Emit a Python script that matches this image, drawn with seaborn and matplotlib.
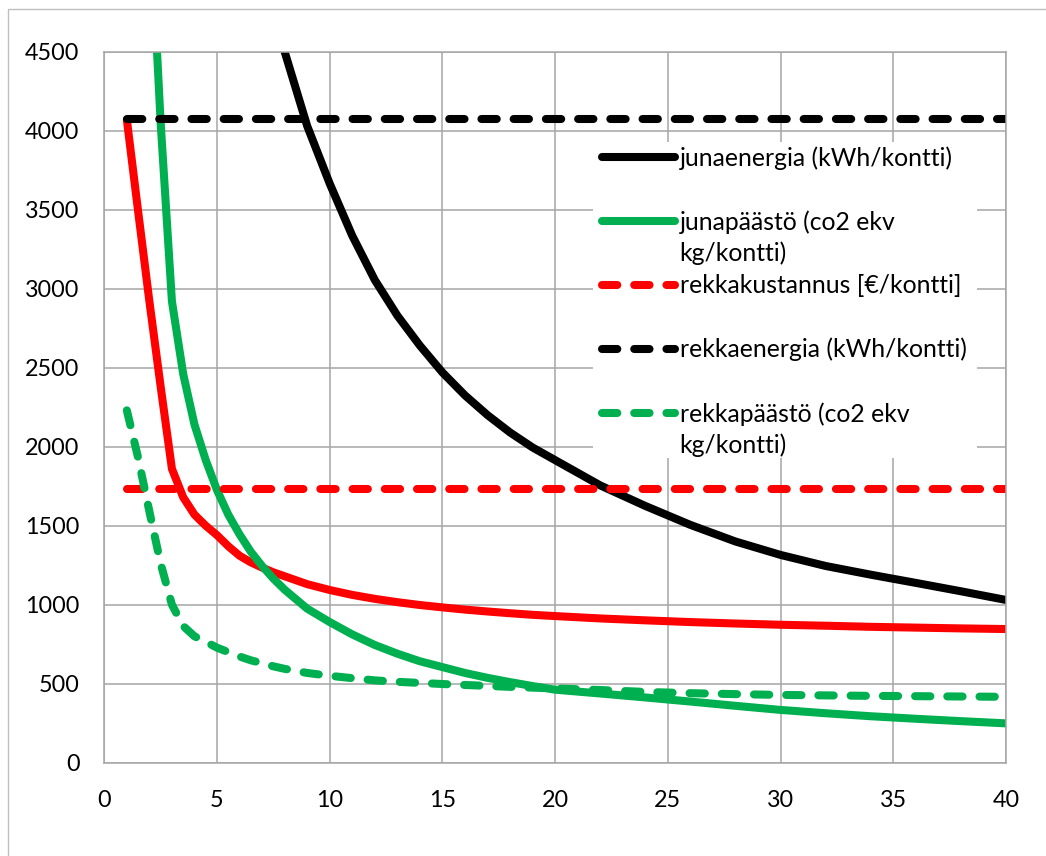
import numpy as np
import matplotlib
matplotlib.use("Agg")
import matplotlib.pyplot as plt
import seaborn as sns
from matplotlib.patches import Rectangle

# Number of containers per train
kontit = [1, 1.5, 2, 2.5, 3, 3.5, 4, 4.5, 5, 5.5, 6, 6.5, 7, 7.5, 8,
          9, 10, 11, 12, 13, 14, 15, 16, 17, 18, 19, 20,
          22, 24, 26, 28, 30, 32, 34, 36, 38, 40]

nan = np.nan

# Train cost per container
junakustannus = [4070, 3490, 2920, 2380, 1860, 1680, 1570, 1500, 1440, 1370,
                 1310, 1268, 1235, 1205, 1180,
                 1130, 1093, 1062, 1037, 1016, 998, 983, 969, 957, 946, 936, 928,
                 913, 901, 890, 881, 873, 867, 860, 855, 850, 846]

# Train energy (kWh/container)
junaenergia = [nan, nan, nan, nan, nan, nan, nan, nan, nan, nan, nan, nan,
               5150, 4820, 4500,
               4030, 3665, 3335, 3055, 2830, 2640, 2470, 2325, 2200, 2090, 1995, 1915,
               1755, 1625, 1505, 1400, 1315, 1245, 1190, 1138, 1085, 1030]

# Train emissions (CO2 eq kg/container)
junapaasto = [nan, nan, 5450, 4050, 2920, 2460, 2140, 1915, 1725, 1570,
              1445, 1335, 1245, 1165, 1095,
              975, 890, 812, 745, 690, 642, 605, 568, 537, 510, 485, 462,
              438, 413, 387, 360, 334, 313, 294, 278, 263, 249]

# Truck reference levels (flat per container)
rekkakustannus = [1730] * len(kontit)
rekkaenergia = [4075] * len(kontit)

# Truck emissions (CO2 eq kg/container)
rekkapaasto = [2230, 1930, 1590, 1260, 1000, 865, 800, 765, 728, 700,
               672, 648, 630, 610, 594,
               568, 550, 535, 521, 512, 505, 498, 492, 486, 480, 475, 470,
               460, 448, 440, 434, 429, 426, 423, 421, 419, 417]

legend_labels = [
    ("junaenergia (kWh/kontti)", None),
    ("junapäästö (co2 ekv", "kg/kontti)"),
    ("rekkakustannus [€/kontti]", None),
    ("rekkaenergia (kWh/kontti)", None),
    ("rekkapäästö (co2 ekv", "kg/kontti)"),
]

x_ticks = list(range(0, 41, 5))
y_ticks = list(range(0, 4501, 500))

RED = "#FF0000"
GREEN = "#00B050"
BLACK = "#000000"
GRID = "#A6A6A6"

sns.set_style("white")
plt.rcParams["font.family"] = ["Lato", "DejaVu Sans"]
plt.rcParams["text.color"] = "#000000"
plt.rcParams["legend.labelcolor"] = "#000000"
TICK_FS = 16.8
LEG_FS = 17.8

W, H, DPI = 1046, 856, 100
fig = plt.figure(figsize=(W / DPI, H / DPI), dpi=DPI)
ax = fig.add_axes([104.3 / W, 1 - 762.7 / H, (1006 - 104.3) / W, (762.7 - 51.7) / H])

lw = 5.8
dash = (0, (1.9, 2.1))
common = dict(estimator=None, sort=False, linewidth=lw, ax=ax)

sns.lineplot(x=kontit, y=junakustannus, color=RED, label="_junakustannus",
             solid_capstyle="round", solid_joinstyle="round", **common)
sns.lineplot(x=kontit, y=junaenergia, color=BLACK, label=legend_labels[0][0],
             solid_capstyle="round", solid_joinstyle="round", **common)
sns.lineplot(x=kontit, y=junapaasto, color=GREEN, label=legend_labels[1][0],
             solid_capstyle="round", solid_joinstyle="round", **common)
sns.lineplot(x=kontit, y=rekkakustannus, color=RED, label=legend_labels[2][0],
             linestyle=dash, dash_capstyle="round", **common)
sns.lineplot(x=kontit, y=rekkaenergia, color=BLACK, label=legend_labels[3][0],
             linestyle=dash, dash_capstyle="round", **common)
sns.lineplot(x=kontit, y=rekkapaasto, color=GREEN, label=legend_labels[4][0],
             linestyle=dash, dash_capstyle="round", dash_joinstyle="round", **common)

ax.set_xlim(0, 40)
ax.set_ylim(0, 4500)
ax.set_xticks(x_ticks)
ax.set_yticks(y_ticks)
ax.set_xticklabels([str(t) for t in x_ticks])
ax.set_yticklabels([str(t) for t in y_ticks])
ax.set_xlabel("")
ax.set_ylabel("")

ax.grid(True, color=GRID, linewidth=1.1)
ax.set_axisbelow(True)
for s in ax.spines.values():
    s.set_color(GRID)
    s.set_linewidth(1.1)
ax.tick_params(axis="both", which="major", direction="out", length=5.8,
               width=1.1, color=GRID, labelsize=TICK_FS, labelcolor="#000000")
ax.tick_params(axis="y", pad=12)
ax.tick_params(axis="x", pad=14)

# white background behind the legend block
ax.add_patch(Rectangle((0.542, 0.4286), 0.968 - 0.542, 0.873 - 0.4286,
                       transform=ax.transAxes, facecolor="white",
                       edgecolor="none", zorder=1.5))

handles, labels = ax.get_legend_handles_labels()
leg = ax.legend(handles, labels, loc="upper left",
                bbox_to_anchor=((601.7 - 104.3) / 901.7, (762.7 - 146) / 711),
                frameon=False, fontsize=LEG_FS, handlelength=2.95,
                handletextpad=0.2, labelspacing=1.64, borderpad=0,
                borderaxespad=0)
leg.set_zorder(3)
for t in leg.get_texts():
    t.set_color("#000000")

fig.canvas.draw()
renderer = fig.canvas.get_renderer()
line_px = 31.7
for txt, (_, extra) in zip(leg.get_texts(), legend_labels):
    if extra:
        bb = txt.get_window_extent(renderer)
        _, _, d = renderer.get_text_width_height_descent(
            "lp", txt.get_fontproperties(), ismath=False)
        base = bb.y0 + d
        fig.text(bb.x0 / W, (base - line_px) / H, extra, ha="left",
                 va="baseline", fontsize=LEG_FS, color="#000000", zorder=4)

# thin frame around the chart area
fig.add_artist(Rectangle((8 / W, -0.05), 1.2, 1 - 9 / H + 0.05,
                         transform=fig.transFigure, fill=False,
                         edgecolor="#BFBFBF", linewidth=1.0))

fig.savefig("out.png", dpi=DPI)
